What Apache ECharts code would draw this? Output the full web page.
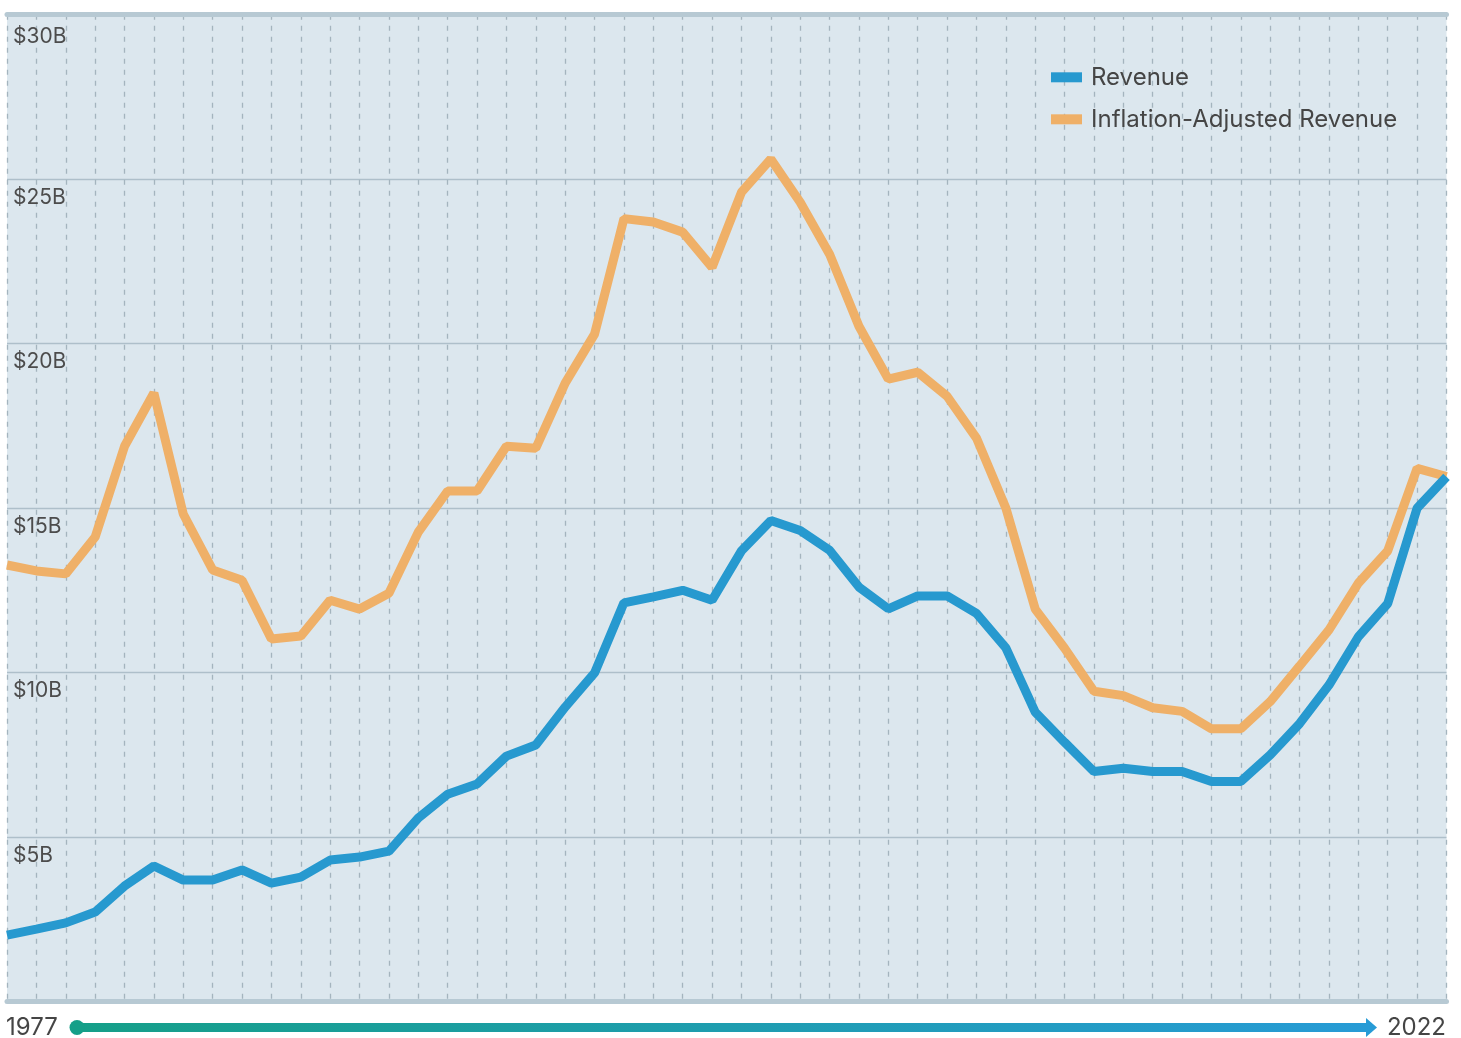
<!DOCTYPE html>
<html>
<head>
<meta charset="utf-8">
<script src="https://cdn.jsdelivr.net/npm/echarts@6/dist/echarts.min.js"></script>
<style>
html,body{margin:0;padding:0;background:#ffffff;}
#chart{width:1461px;height:1038px;}
</style>
</head>
<body>
<div id="chart"></div>
<script>
// ---- data ----
const years = [];
for (let y = 1973; y <= 2022; y++) years.push(String(y));

const revenue = [
  2.02, 2.2, 2.39, 2.72, 3.51, 4.12, 3.69, 3.69, 4.0, 3.6,
  3.78, 4.3, 4.39, 4.57, 5.58, 6.3, 6.61, 7.46, 7.8, 8.95,
  9.99, 12.12, 12.3, 12.5, 12.2, 13.7, 14.62, 14.32, 13.72, 12.6,
  11.94, 12.33, 12.33, 11.8, 10.75, 8.8, 7.88, 6.99, 7.09, 6.99,
  6.99, 6.69, 6.69, 7.5, 8.45, 9.62, 11.09, 12.1, 15.0, 15.95
];
const inflationAdjusted = [
  13.27, 13.09, 13.0, 14.12, 16.88, 18.5, 14.82, 13.12, 12.81, 11.02,
  11.11, 12.2, 11.93, 12.41, 14.27, 15.52, 15.52, 16.88, 16.82, 18.8,
  20.29, 23.8, 23.7, 23.39, 22.32, 24.6, 25.61, 24.3, 22.72, 20.53,
  18.92, 19.13, 18.4, 17.13, 15.0, 11.93, 10.74, 9.43, 9.3, 8.93,
  8.82, 8.29, 8.29, 9.12, 10.2, 11.3, 12.72, 13.7, 16.21, 15.96
];
const yTicks = { min: 0, max: 30, interval: 5 };
const seriesNames = ['Revenue', 'Inflation-Adjusted Revenue'];
const startLabel = '1977';
const endLabel = '2022';

// ---- chart ----
const FONT = 'Inter, "Noto Sans", sans-serif';
const chart = echarts.init(document.getElementById('chart'), null, { renderer: 'canvas' });

const option = {
  backgroundColor: '#ffffff',
  animation: false,
  textStyle: { fontFamily: FONT },
  grid: {
    left: 7, right: 14.5, top: 14.7, bottom: 36.5,
    show: true, backgroundColor: '#dce7ee', borderWidth: 0
  },
  legend: {
    data: seriesNames,
    orient: 'vertical',
    left: 1051, top: 65.3, padding: 0,
    itemWidth: 31, itemHeight: 10, itemGap: 18,
    icon: 'rect',
    textStyle: { fontFamily: FONT, fontSize: 24, color: '#454545', lineHeight: 24, padding: [0, 0, 0, 4] }
  },
  xAxis: [{
    type: 'category', data: years, boundaryGap: false, position: 'bottom',
    axisLine: { show: true, lineStyle: { color: '#b7c9d3', width: 5 } },
    axisTick: { show: false }, axisLabel: { show: false },
    splitLine: { show: true, interval: 0, lineStyle: { color: '#a4b4be', width: 1.3, type: [5, 6] } }
  }, {
    type: 'category', data: years, boundaryGap: false, position: 'top',
    axisLine: { show: true, lineStyle: { color: '#b7c9d3', width: 5 } },
    axisTick: { show: false }, axisLabel: { show: false }, splitLine: { show: false }
  }],
  yAxis: {
    type: 'value', min: yTicks.min, max: yTicks.max, interval: yTicks.interval,
    axisLine: { show: false }, axisTick: { show: false },
    splitLine: { show: true, lineStyle: { color: '#aebfca', width: 1.3 } },
    axisLabel: {
      inside: true, margin: 6, verticalAlign: 'top', align: 'left',
      fontFamily: FONT, fontSize: 21, color: '#4c4c4c',
      formatter: v => v === 0 ? '' : (v === yTicks.max ? '{t|$' + v + 'B}' : '{n|$' + v + 'B}'),
      rich: {
        t: { fontFamily: FONT, fontSize: 21, color: '#4c4c4c', padding: [11, 0, 0, 0] },
        n: { fontFamily: FONT, fontSize: 21, color: '#4c4c4c', padding: [8, 0, 0, 0] }
      }
    }
  },
  series: [{
    name: seriesNames[0], type: 'line', data: revenue, showSymbol: false, z: 4,
    itemStyle: { color: '#2799cf' },
    lineStyle: { color: '#2799cf', width: 9 }
  }, {
    name: seriesNames[1], type: 'line', data: inflationAdjusted, showSymbol: false, z: 3,
    itemStyle: { color: '#efb068' },
    lineStyle: { color: '#efb068', width: 9 }
  }],
  graphic: [
    { type: 'text', left: 6, top: 1016, style: { text: startLabel, font: '24px ' + FONT, fill: '#454545' } },
    { type: 'line', shape: { x1: 77, y1: 1027.5, x2: 1368, y2: 1027.5 },
      style: { lineWidth: 9, stroke: new echarts.graphic.LinearGradient(0, 0, 1, 0, [
        { offset: 0, color: '#159f88' }, { offset: 1, color: '#279bd6' }]) } },
    { type: 'circle', shape: { cx: 77, cy: 1027.5, r: 7.5 }, style: { fill: '#159f88' } },
    { type: 'polygon', shape: { points: [[1366, 1018], [1377, 1027.5], [1366, 1037]] }, style: { fill: '#279bd6' } },
    { type: 'text', right: 15, top: 1016, style: { text: endLabel, font: '24px ' + FONT, fill: '#454545' } }
  ]
};
chart.setOption(option);
</script>
</body>
</html>
